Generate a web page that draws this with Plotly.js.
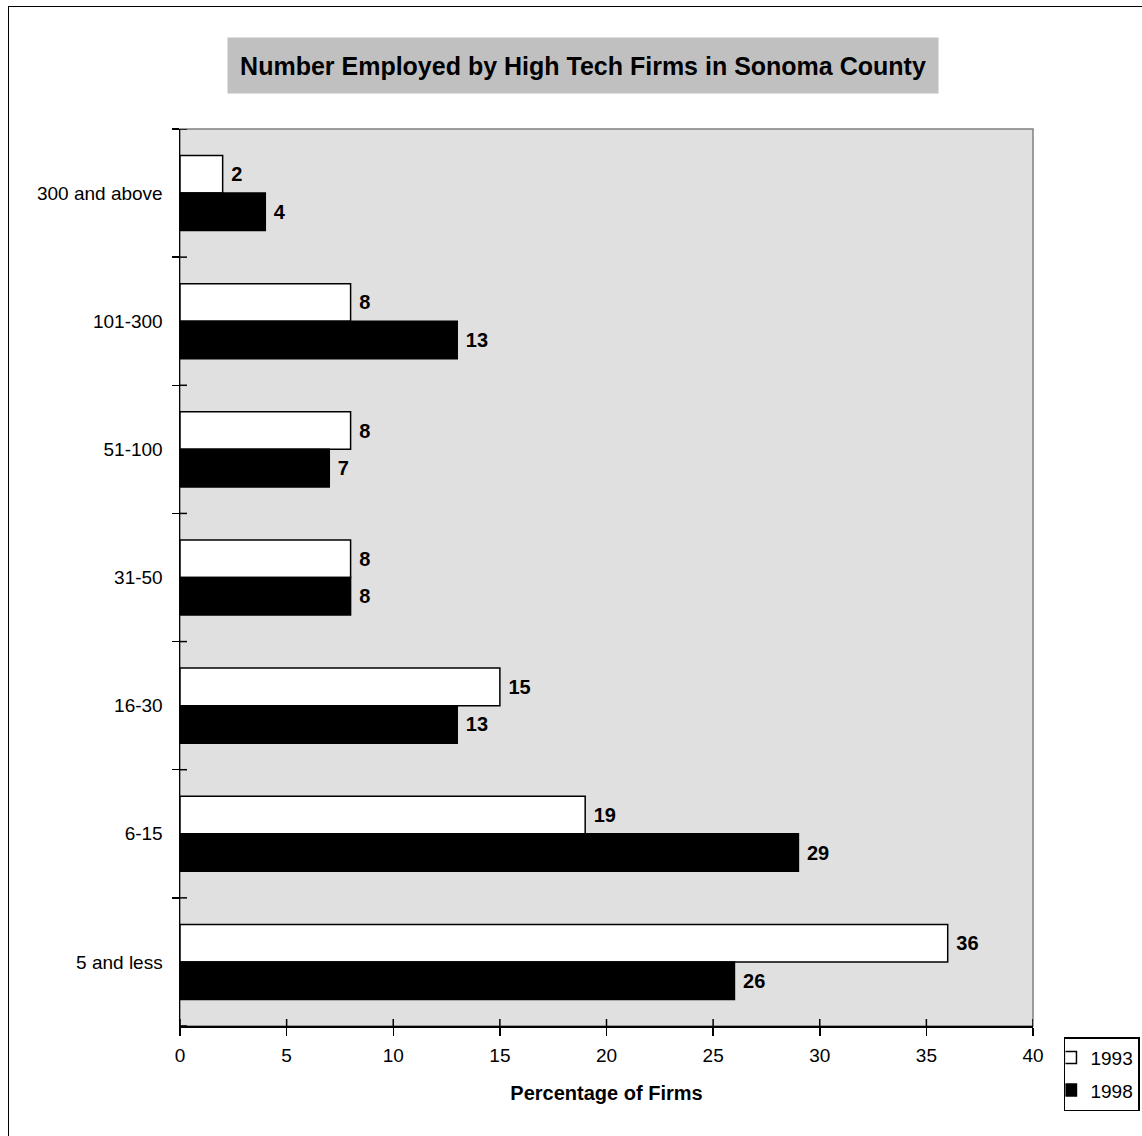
<!DOCTYPE html>
<html>
<head>
<meta charset="utf-8">
<script src="https://cdn.plot.ly/plotly-3.0.1.min.js"></script>
<style>
  html, body { margin: 0; padding: 0; background: #ffffff; }
  #wrap { position: relative; width: 1142px; height: 1136px; overflow: hidden; }
  #chart { position: absolute; left: 0; top: 0; width: 1142px; height: 1136px; }
  #frame { position: absolute; left: 8px; top: 6px; width: 1200px; height: 1200px;
           border-left: 1px solid #000; border-top: 1px solid #000; pointer-events: none; }
</style>
</head>
<body>
<div id="wrap">
  <div id="chart"></div>
  <div id="frame"></div>
</div>
<script>
// Firm-size bands, top to bottom
const sizeBands = ["300 and above", "101-300", "51-100", "31-50", "16-30", "6-15", "5 and less"];
// Percentage of firms in each band
const pct1993 = [2, 8, 8, 8, 15, 19, 36];
const pct1998 = [4, 13, 7, 8, 13, 29, 26];
const seriesNames = ["1993", "1998"];
const chartTitle = "Number Employed by High Tech Firms in Sonoma County";
const xTitle = "Percentage of Firms";

const X_MAX = 40;
const X_STEP = 5;

const FONT = "Liberation Sans, Arial, sans-serif";

const labelFont = { family: FONT, size: 20, color: "#000000", weight: "bold" };

function barTrace(name, values, fill, group) {
  return {
    type: "bar",
    orientation: "h",
    name: name,
    y: sizeBands,
    x: values,
    legendgroup: group,
    marker: { color: fill, line: { color: "#000000", width: 1.5 } },
    texttemplate: "\u00a0<b>%{x}</b>",
    textposition: "outside",
    textfont: labelFont,
    outsidetextfont: labelFont,
    constraintext: "none",
    cliponaxis: false,
    hoverinfo: "skip"
  };
}

const traces = [
  barTrace(seriesNames[0], pct1993, "#ffffff", "a"),
  barTrace(seriesNames[1], pct1998, "#000000", "b")
];

// Inner halves of the crossing tick marks (the outer halves are the axis ticks)
const TICK_IN = 7;
const tickLine = { color: "#000000", width: 1.5 };
const innerTicks = [];
for (let v = 0; v <= X_MAX; v += X_STEP) {
  innerTicks.push({
    type: "line", xref: "x", yref: "paper", ysizemode: "pixel", yanchor: 0,
    x0: v, x1: v, y0: 0, y1: TICK_IN, line: tickLine, layer: "above"
  });
}
for (let i = 0; i <= sizeBands.length; i++) {
  innerTicks.push({
    type: "line", xref: "paper", yref: "y", xsizemode: "pixel", xanchor: 0,
    x0: 0, x1: TICK_IN, y0: i - 0.5, y1: i - 0.5, line: tickLine, layer: "above"
  });
}

const layout = {
  width: 1142,
  height: 1136,
  margin: { l: 180, r: 109, t: 129, b: 110, pad: 0, autoexpand: false },
  paper_bgcolor: "#ffffff",
  plot_bgcolor: "#e0e0e0",
  font: { family: FONT, size: 19, color: "#000000" },
  barmode: "group",
  bargap: 0.414,
  bargroupgap: 0,
  showlegend: true,
  legend: {
    x: 1.1254, y: -0.0123, xanchor: "right", yanchor: "top",
    bgcolor: "#ffffff", bordercolor: "#000000", borderwidth: 1.5,
    font: { family: FONT, size: 19, color: "#000000" },
    itemwidth: 30, indentation: -15, tracegroupgap: 5, traceorder: "grouped"
  },
  xaxis: {
    range: [0, X_MAX], dtick: X_STEP, tick0: 0,
    showgrid: false, zeroline: false,
    showline: true, linecolor: "#000000", linewidth: 1.5,
    ticks: "outside", ticklen: 8, tickwidth: 1.5, tickcolor: "#000000",
    ticklabelstandoff: 4,
    tickfont: { family: FONT, size: 19, color: "#000000" },
    title: { text: "<b>" + xTitle + "</b>", standoff: 20,
             font: { family: FONT, size: 20, color: "#000000" } },
    fixedrange: true
  },
  yaxis: {
    type: "category",
    categoryorder: "array", categoryarray: sizeBands,
    range: [sizeBands.length - 0.5, -0.5],
    tickson: "boundaries",
    showgrid: false, zeroline: false,
    showline: true, linecolor: "#000000", linewidth: 1.5,
    ticks: "outside", ticklen: 7, tickwidth: 1.5, tickcolor: "#000000",
    ticklabelstandoff: 12,
    tickfont: { family: FONT, size: 19, color: "#000000" },
    fixedrange: true
  },
  shapes: [
    { type: "rect", xref: "paper", yref: "paper", x0: 0, x1: 1, y0: 0, y1: 1,
      line: { color: "#808080", width: 1.5 }, fillcolor: "rgba(0,0,0,0)", layer: "below" }
  ].concat(innerTicks),
  annotations: [
    { text: "<b>" + chartTitle + "</b>", xref: "paper", yref: "paper",
      x: 0.4725, y: 1.0708, xanchor: "center", yanchor: "middle",
      showarrow: false, bgcolor: "#c0c0c0", width: 710, height: 55, borderpad: 0,
      font: { family: FONT, size: 25, color: "#000000" } }
  ]
};

Plotly.newPlot("chart", traces, layout, { displayModeBar: false, staticPlot: true });
</script>
</body>
</html>
